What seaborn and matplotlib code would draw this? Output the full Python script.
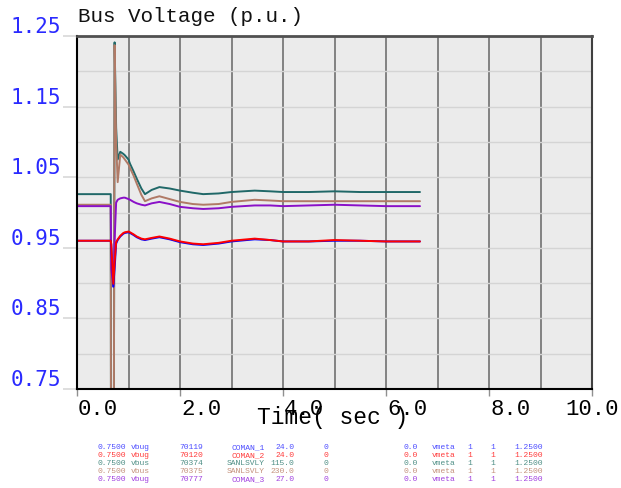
import numpy as np
import pandas as pd
import matplotlib
matplotlib.use('Agg')
import matplotlib.pyplot as plt
import matplotlib.transforms as mtransforms
import seaborn as sns

# time axis (sec) shared by all channels
time = [0.0, 0.655, 0.665, 0.705, 0.73, 0.76, 0.79, 0.84, 0.90, 0.93, 1.0, 1.03,
        1.1, 1.16, 1.25, 1.32, 1.45, 1.6, 1.8, 2.0, 2.25, 2.45, 2.75, 3.0, 3.45,
        3.75, 4.0, 4.5, 5.0, 5.5, 6.0, 6.66]

v_70374 = [1.026, 1.026, 0.30, 0.30, 1.241, 1.12, 1.075, 1.086, 1.083, 1.081, 1.075, 1.069,
           1.058, 1.048, 1.034, 1.026, 1.032, 1.036, 1.034, 1.031, 1.028, 1.026, 1.027, 1.029, 1.031,
           1.030, 1.029, 1.029, 1.030, 1.029, 1.029, 1.029]
v_70375 = [1.011, 1.011, 0.30, 0.30, 1.237, 1.10, 1.043, 1.082, 1.078, 1.075, 1.068, 1.063,
           1.052, 1.041, 1.025, 1.016, 1.020, 1.023, 1.019, 1.015, 1.012, 1.011, 1.012, 1.015, 1.018,
           1.017, 1.016, 1.016, 1.016, 1.016, 1.016, 1.016]
v_70777 = [1.009, 1.009, 0.92, 0.895, 0.96, 1.014, 1.018, 1.020, 1.021, 1.021, 1.019, 1.018,
           1.015, 1.013, 1.011, 1.010, 1.013, 1.015, 1.012, 1.008, 1.006, 1.005, 1.006, 1.008, 1.010,
           1.010, 1.009, 1.010, 1.011, 1.010, 1.009, 1.009]
v_70119 = [0.960, 0.960, 0.955, 0.895, 0.92, 0.956, 0.961, 0.966, 0.970, 0.971, 0.972, 0.971,
           0.968, 0.965, 0.962, 0.961, 0.963, 0.965, 0.962, 0.958, 0.955, 0.954, 0.956, 0.959, 0.962,
           0.961, 0.959, 0.959, 0.960, 0.960, 0.959, 0.959]
v_70120 = [0.960, 0.960, 0.955, 0.899, 0.93, 0.958, 0.962, 0.967, 0.971, 0.972, 0.973, 0.972,
           0.969, 0.966, 0.963, 0.962, 0.964, 0.966, 0.963, 0.959, 0.956, 0.955, 0.957, 0.960, 0.963,
           0.961, 0.959, 0.959, 0.961, 0.960, 0.959, 0.959]

channels = ['70374', '70375', '70777', '70119', '70120']
line_colors = ['#206868', '#b07a66', '#8a10c8', '#0000ff', '#ff0000']

legend_rows = [
    ['0.7500', 'vbug', '70119', 'COMAN_1', '24.0', '0', '0.0', 'vmeta', '1', '1', '1.2500'],
    ['0.7500', 'vbug', '70120', 'COMAN_2', '24.0', '0', '0.0', 'vmeta', '1', '1', '1.2500'],
    ['0.7500', 'vbus', '70374', 'SANLSVLY', '115.0', '0', '0.0', 'vmeta', '1', '1', '1.2500'],
    ['0.7500', 'vbus', '70375', 'SANLSVLY', '230.0', '0', '0.0', 'vmeta', '1', '1', '1.2500'],
    ['0.7500', 'vbug', '70777', 'COMAN_3', '27.0', '0', '0.0', 'vmeta', '1', '1', '1.2500'],
]
legend_colors = ['#4d4dff', '#ff3b3b', '#4f8f86', '#c4917c', '#a040e0']

df = pd.DataFrame({
    'time': time * 5,
    'voltage': v_70374 + v_70375 + v_70777 + v_70119 + v_70120,
    'channel': sum([[c] * len(time) for c in channels], []),
})

sns.set_theme(style='white', rc={'axes.facecolor': '#ebebeb'})

fig = plt.figure(figsize=(6.21, 4.89), dpi=100)
W, H = 621, 489
ax = fig.add_axes([77 / W, 1 - 390 / H, (592 - 77) / W, (390 - 37) / H])

sns.lineplot(data=df, x='time', y='voltage', hue='channel', hue_order=channels,
             palette=line_colors, estimator=None, sort=False, legend=False, lw=1.4, ax=ax)

ax.set_xlim(0, 10)
ax.set_ylim(0.75, 1.25)
ax.set_xlabel('')
ax.set_ylabel('')

# grid
ax.set_xticks(np.arange(0, 11, 2))
ax.set_xticks(np.arange(0, 11, 1), minor=True)
ax.set_yticks(np.round(np.arange(0.75, 1.26, 0.1), 2))
ax.set_yticks(np.round(np.arange(0.75, 1.26, 0.05), 2), minor=True)
ax.grid(which='both', axis='x', color='#707070', lw=1.2)
ax.grid(which='both', axis='y', color='#d4d4d4', lw=1.0)
ax.set_axisbelow(True)

ax.tick_params(axis='x', which='major', length=5, color='#909090', width=1, bottom=True, labelbottom=False)
ax.tick_params(axis='x', which='minor', length=0)
ax.tick_params(axis='y', which='major', length=10, color='#d8d8d8', width=1.2, left=True,
               pad=1.5, labelsize=15, labelcolor='#2a2aff')
ax.tick_params(axis='y', which='minor', length=0)
ax.set_yticklabels([f'{v:.2f}' for v in ax.get_yticks()], family='DejaVu Sans Mono', va='bottom')

for x in ax.get_xticks():
    tr = mtransforms.offset_copy(ax.get_xaxis_transform(), fig=fig,
                                 x=(-27 if x == 10 else 1), y=-20, units='dots')
    ax.text(x, 0, f'{x:.1f}', transform=tr, ha='left', va='center',
            family='Liberation Mono', size=16, color='black')

for side, c, w in [('left', 'black', 1.5), ('bottom', 'black', 1.5),
                   ('top', '#505050', 2.0), ('right', '#404040', 1.5)]:
    ax.spines[side].set_color(c)
    ax.spines[side].set_linewidth(w)

fig.text(78 / W, 1 - 16.5 / H, 'Bus Voltage (p.u.)', ha='left', va='center',
         family='Liberation Mono', size=15, color='#111111')
fig.text(333 / W, 1 - 418 / H, 'Time( sec )', ha='center', va='center',
         family='Liberation Mono', size=16.5, color='black')

# channel legend (columns: left edge or right edge, alignment)
cols = [(97, 'left'), (130.5, 'left'), (179, 'left'), (265, 'right'), (294, 'right'),
        (323, 'left'), (403, 'left'), (432, 'left'), (467, 'left'), (490, 'left'), (514, 'left')]
row_y = [449, 457, 465, 473, 481]
for row, color, y in zip(legend_rows, legend_colors, row_y):
    for val, (x, ha) in zip(row, cols):
        fig.text(x / W, 1 - y / H, val, ha=ha, va='baseline', family='Liberation Mono',
                 size=5.8, color=color)

fig.savefig('out.png', dpi=100)
